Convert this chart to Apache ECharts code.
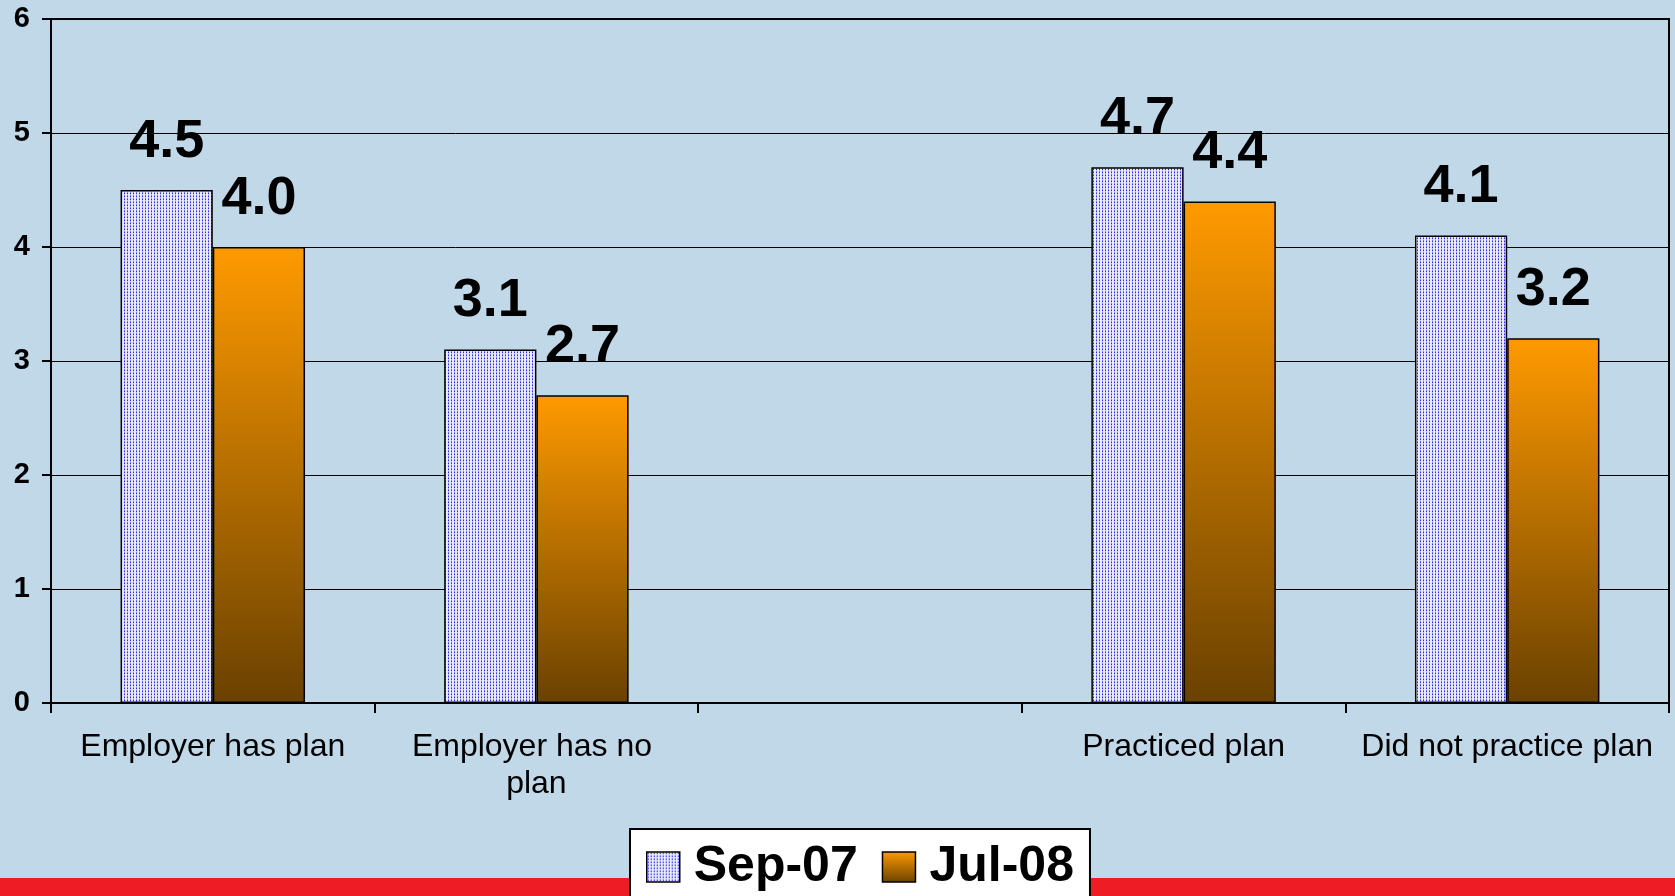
<!DOCTYPE html>
<html>
<head>
<meta charset="utf-8">
<script src="https://cdn.jsdelivr.net/npm/echarts@6/dist/echarts.min.js"></script>
<style>
html,body{margin:0;padding:0;background:#C0D8E8;}
#chart{width:1675px;height:896px;}
</style>
</head>
<body>
<div id="chart"></div>
<script>
const categories = ['Employer has plan', 'Employer has no plan', '', 'Practiced plan', 'Did not practice plan'];
const seriesNames = ['Sep-07', 'Jul-08'];
const sep07 = [4.5, 3.1, null, 4.7, 4.1];
const jul08 = [4.0, 2.7, null, 4.4, 3.2];
const yMin = 0, yMax = 6, yStep = 1;

function makeDots() {
  const c = document.createElement('canvas');
  c.width = 3; c.height = 3;
  const g = c.getContext('2d');
  g.fillStyle = '#EAEAFF'; g.fillRect(0, 0, 3, 3);
  g.fillStyle = '#2626FF';
  g.fillRect(1, 1, 1, 1);
  g.fillStyle = '#8080FF';
  g.fillRect(1, 0, 1, 1);
  g.fillStyle = '#BCBCFF';
  g.fillRect(1, 2, 1, 1);
  return c;
}
const dotPattern = { image: makeDots(), repeat: 'repeat' };
const orangeGrad = new echarts.graphic.LinearGradient(0, 0, 0, 1, [
  { offset: 0, color: '#FF9A00' },
  { offset: 1, color: '#6A4100' }
]);

const FONT = "'Liberation Sans', Arial, sans-serif";
const chart = echarts.init(document.getElementById('chart'), null, { renderer: 'canvas' });
const labelCfg = {
  show: true, position: 'top', distance: 21,
  fontFamily: FONT, fontSize: 54, fontWeight: 'bold', color: '#000',
  formatter: p => (p.value == null ? '' : Number(p.value).toFixed(1))
};
chart.setOption({
  backgroundColor: '#C0D8E8',
  animation: false,
  grid: { left: 51, right: 6, top: 19, bottom: 193, show: true, borderColor: '#000', borderWidth: 2, backgroundColor: 'transparent' },
  graphic: [{
    type: 'rect', left: 0, bottom: 0, z: 1,
    shape: { width: 1675, height: 18 },
    style: { fill: '#EE1C25' }
  }],
  legend: {
    data: seriesNames,
    left: 630, top: 829,
    backgroundColor: '#fff', borderColor: '#000', borderWidth: 2,
    padding: [13, 16, 22, 16],
    itemGap: 24, itemWidth: 33, itemHeight: 30,
    icon: 'rect',
    z: 10,
    itemStyle: { borderColor: '#000', borderWidth: 1.5 },
    textStyle: { fontFamily: FONT, fontSize: 50, fontWeight: 'bold', color: '#000', padding: [0, 0, 0, 9] }
  },
  xAxis: {
    type: 'category',
    data: categories,
    axisLine: { lineStyle: { color: '#000', width: 2 } },
    axisTick: { show: true, length: 10, lineStyle: { color: '#000', width: 2 }, alignWithLabel: false },
    axisLabel: {
      fontFamily: FONT, fontSize: 32, color: '#000', margin: 26, lineHeight: 37,
      width: 300, overflow: 'break', interval: 0
    }
  },
  yAxis: {
    type: 'value', min: yMin, max: yMax, interval: yStep,
    axisLine: { show: true, lineStyle: { color: '#000', width: 2 } },
    axisTick: { show: true, length: 9, lineStyle: { color: '#000', width: 2 } },
    axisLabel: { fontFamily: FONT, fontSize: 29, fontWeight: 'bold', color: '#000', margin: 21 },
    splitLine: { show: true, lineStyle: { color: '#000', width: 1 } }
  },
  series: [
    {
      name: seriesNames[0], type: 'bar', data: sep07,
      barGap: '0%', barCategoryGap: '43%',
      itemStyle: { color: dotPattern, borderColor: '#000', borderWidth: 1.5 },
      label: labelCfg
    },
    {
      name: seriesNames[1], type: 'bar', data: jul08,
      barGap: '0%', barCategoryGap: '43%',
      itemStyle: { color: orangeGrad, borderColor: '#000', borderWidth: 1.5 },
      label: labelCfg
    }
  ]
});
</script>
</body>
</html>
